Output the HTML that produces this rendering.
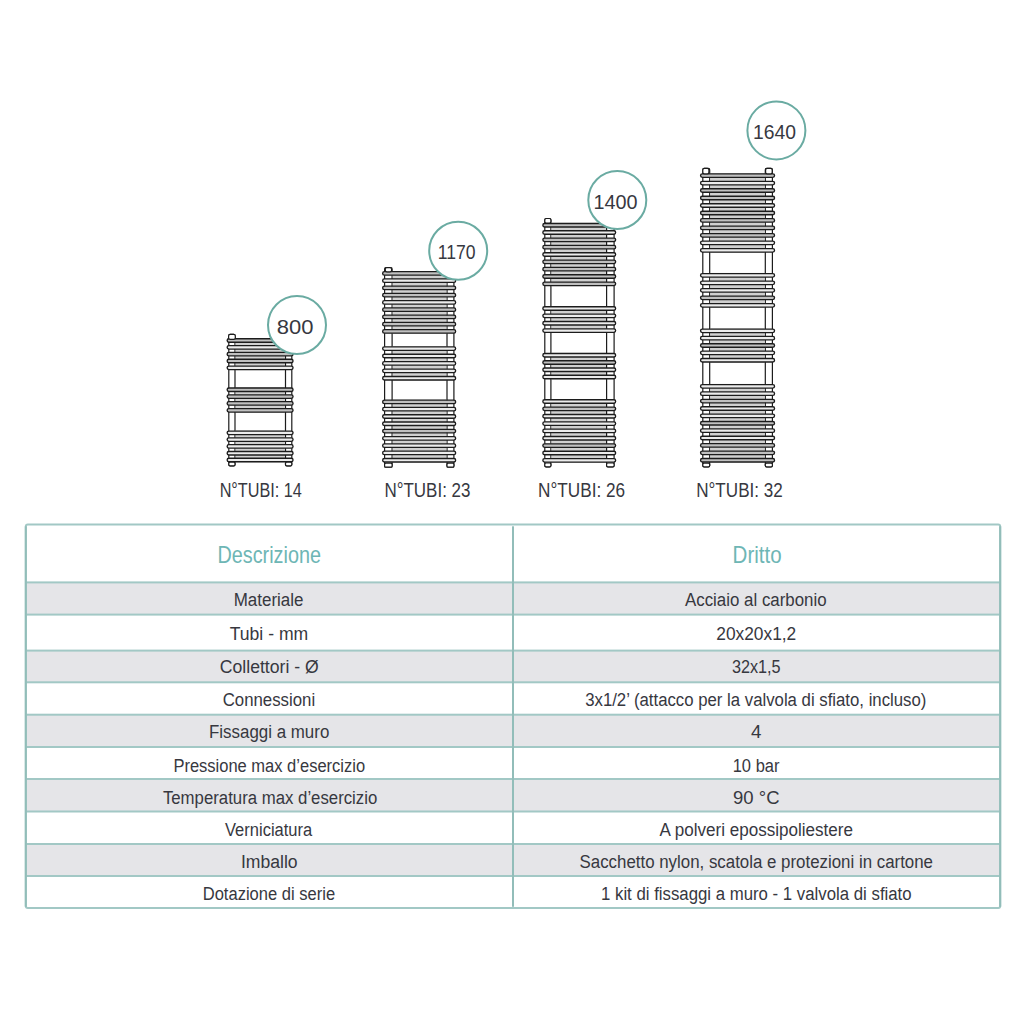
<!DOCTYPE html>
<html><head><meta charset="utf-8"><title>Scheda tecnica</title>
<style>html,body{margin:0;padding:0;background:#fff;width:1024px;height:1024px;overflow:hidden}svg{display:block}text{font-family:"Liberation Sans",sans-serif}</style></head>
<body>
<svg width="1024" height="1024" viewBox="0 0 1024 1024">
<defs><filter id="soft" x="-5%" y="-5%" width="110%" height="110%"><feGaussianBlur stdDeviation="0.45"/></filter></defs>
<g id="radiators" filter="url(#soft)">
<rect x="228.80" y="334.30" width="6.20" height="131.50" rx="1.3" fill="#fff" stroke="#1c1c1c" stroke-width="1.2"/>
<rect x="285.50" y="334.30" width="6.30" height="131.50" rx="1.3" fill="#fff" stroke="#1c1c1c" stroke-width="1.2"/>
<rect x="235.60" y="338.10" width="49.30" height="32.10" fill="#d0d0d0"/>
<rect x="227.15" y="338.75" width="65.90" height="3.50" rx="1.75" fill="#c0c0c0" stroke="#1c1c1c" stroke-width="1.35"/>
<rect x="227.15" y="345.57" width="65.90" height="3.50" rx="1.75" fill="#ececec" stroke="#1c1c1c" stroke-width="1.35"/>
<rect x="227.15" y="352.40" width="65.90" height="3.50" rx="1.75" fill="#c0c0c0" stroke="#1c1c1c" stroke-width="1.35"/>
<rect x="227.15" y="359.23" width="65.90" height="3.50" rx="1.75" fill="#c0c0c0" stroke="#1c1c1c" stroke-width="1.35"/>
<rect x="227.15" y="366.05" width="65.90" height="3.50" rx="1.75" fill="#ececec" stroke="#1c1c1c" stroke-width="1.35"/>
<rect x="235.60" y="387.30" width="49.30" height="25.40" fill="#d0d0d0"/>
<rect x="227.15" y="387.95" width="65.90" height="3.50" rx="1.75" fill="#c0c0c0" stroke="#1c1c1c" stroke-width="1.35"/>
<rect x="227.15" y="394.82" width="65.90" height="3.50" rx="1.75" fill="#c0c0c0" stroke="#1c1c1c" stroke-width="1.35"/>
<rect x="227.15" y="401.68" width="65.90" height="3.50" rx="1.75" fill="#c0c0c0" stroke="#1c1c1c" stroke-width="1.35"/>
<rect x="227.15" y="408.55" width="65.90" height="3.50" rx="1.75" fill="#c0c0c0" stroke="#1c1c1c" stroke-width="1.35"/>
<rect x="235.60" y="430.40" width="49.30" height="32.00" fill="#d0d0d0"/>
<rect x="227.15" y="431.05" width="65.90" height="3.50" rx="1.75" fill="#ececec" stroke="#1c1c1c" stroke-width="1.35"/>
<rect x="227.15" y="437.85" width="65.90" height="3.50" rx="1.75" fill="#ececec" stroke="#1c1c1c" stroke-width="1.35"/>
<rect x="227.15" y="444.65" width="65.90" height="3.50" rx="1.75" fill="#ececec" stroke="#1c1c1c" stroke-width="1.35"/>
<rect x="227.15" y="451.45" width="65.90" height="3.50" rx="1.75" fill="#ececec" stroke="#1c1c1c" stroke-width="1.35"/>
<rect x="227.15" y="458.25" width="65.90" height="3.50" rx="1.75" fill="#ececec" stroke="#1c1c1c" stroke-width="1.35"/>
<rect x="228.60" y="334.30" width="6.70" height="5.10" rx="1.6" fill="#fff" stroke="#1c1c1c" stroke-width="1.2"/>
<rect x="228.80" y="462.20" width="6.20" height="3.60" rx="1.3" fill="#fff" stroke="#1c1c1c" stroke-width="1.2"/>
<rect x="285.50" y="462.20" width="6.30" height="3.60" rx="1.3" fill="#fff" stroke="#1c1c1c" stroke-width="1.2"/>
<rect x="384.60" y="267.60" width="7.50" height="199.60" rx="1.3" fill="#fff" stroke="#1c1c1c" stroke-width="1.2"/>
<rect x="447.00" y="267.60" width="6.90" height="199.60" rx="1.3" fill="#fff" stroke="#1c1c1c" stroke-width="1.2"/>
<rect x="392.70" y="271.00" width="53.70" height="62.80" fill="#d0d0d0"/>
<rect x="382.65" y="271.65" width="73.00" height="3.50" rx="1.75" fill="#c0c0c0" stroke="#1c1c1c" stroke-width="1.35"/>
<rect x="382.65" y="278.90" width="73.00" height="3.50" rx="1.75" fill="#ececec" stroke="#1c1c1c" stroke-width="1.35"/>
<rect x="382.65" y="286.15" width="73.00" height="3.50" rx="1.75" fill="#c0c0c0" stroke="#1c1c1c" stroke-width="1.35"/>
<rect x="382.65" y="293.40" width="73.00" height="3.50" rx="1.75" fill="#c0c0c0" stroke="#1c1c1c" stroke-width="1.35"/>
<rect x="382.65" y="300.65" width="73.00" height="3.50" rx="1.75" fill="#ececec" stroke="#1c1c1c" stroke-width="1.35"/>
<rect x="382.65" y="307.90" width="73.00" height="3.50" rx="1.75" fill="#c0c0c0" stroke="#1c1c1c" stroke-width="1.35"/>
<rect x="382.65" y="315.15" width="73.00" height="3.50" rx="1.75" fill="#c0c0c0" stroke="#1c1c1c" stroke-width="1.35"/>
<rect x="382.65" y="322.40" width="73.00" height="3.50" rx="1.75" fill="#c0c0c0" stroke="#1c1c1c" stroke-width="1.35"/>
<rect x="382.65" y="329.65" width="73.00" height="3.50" rx="1.75" fill="#c0c0c0" stroke="#1c1c1c" stroke-width="1.35"/>
<rect x="392.70" y="346.20" width="53.70" height="34.40" fill="#d0d0d0"/>
<rect x="382.65" y="346.85" width="73.00" height="3.50" rx="1.75" fill="#ececec" stroke="#1c1c1c" stroke-width="1.35"/>
<rect x="382.65" y="354.25" width="73.00" height="3.50" rx="1.75" fill="#ececec" stroke="#1c1c1c" stroke-width="1.35"/>
<rect x="382.65" y="361.65" width="73.00" height="3.50" rx="1.75" fill="#ececec" stroke="#1c1c1c" stroke-width="1.35"/>
<rect x="382.65" y="369.05" width="73.00" height="3.50" rx="1.75" fill="#ececec" stroke="#1c1c1c" stroke-width="1.35"/>
<rect x="382.65" y="376.45" width="73.00" height="3.50" rx="1.75" fill="#ececec" stroke="#1c1c1c" stroke-width="1.35"/>
<rect x="392.70" y="399.50" width="53.70" height="63.10" fill="#d0d0d0"/>
<rect x="382.65" y="400.15" width="73.00" height="3.50" rx="1.75" fill="#c0c0c0" stroke="#1c1c1c" stroke-width="1.35"/>
<rect x="382.65" y="407.44" width="73.00" height="3.50" rx="1.75" fill="#ececec" stroke="#1c1c1c" stroke-width="1.35"/>
<rect x="382.65" y="414.72" width="73.00" height="3.50" rx="1.75" fill="#ececec" stroke="#1c1c1c" stroke-width="1.35"/>
<rect x="382.65" y="422.01" width="73.00" height="3.50" rx="1.75" fill="#ececec" stroke="#1c1c1c" stroke-width="1.35"/>
<rect x="382.65" y="429.30" width="73.00" height="3.50" rx="1.75" fill="#c0c0c0" stroke="#1c1c1c" stroke-width="1.35"/>
<rect x="382.65" y="436.59" width="73.00" height="3.50" rx="1.75" fill="#ececec" stroke="#1c1c1c" stroke-width="1.35"/>
<rect x="382.65" y="443.88" width="73.00" height="3.50" rx="1.75" fill="#ececec" stroke="#1c1c1c" stroke-width="1.35"/>
<rect x="382.65" y="451.16" width="73.00" height="3.50" rx="1.75" fill="#ececec" stroke="#1c1c1c" stroke-width="1.35"/>
<rect x="382.65" y="458.45" width="73.00" height="3.50" rx="1.75" fill="#ececec" stroke="#1c1c1c" stroke-width="1.35"/>
<rect x="385.30" y="267.60" width="6.30" height="4.30" rx="1.6" fill="#fff" stroke="#1c1c1c" stroke-width="1.2"/>
<rect x="384.60" y="463.20" width="7.50" height="4.00" rx="1.3" fill="#fff" stroke="#1c1c1c" stroke-width="1.2"/>
<rect x="447.00" y="463.20" width="6.90" height="4.00" rx="1.3" fill="#fff" stroke="#1c1c1c" stroke-width="1.2"/>
<rect x="544.80" y="218.50" width="6.10" height="248.30" rx="1.3" fill="#fff" stroke="#1c1c1c" stroke-width="1.2"/>
<rect x="606.60" y="218.50" width="7.50" height="248.30" rx="1.3" fill="#fff" stroke="#1c1c1c" stroke-width="1.2"/>
<rect x="551.50" y="222.80" width="54.50" height="63.40" fill="#d0d0d0"/>
<rect x="542.85" y="223.45" width="72.80" height="3.50" rx="1.75" fill="#c0c0c0" stroke="#1c1c1c" stroke-width="1.35"/>
<rect x="542.85" y="230.77" width="72.80" height="3.50" rx="1.75" fill="#ececec" stroke="#1c1c1c" stroke-width="1.35"/>
<rect x="542.85" y="238.10" width="72.80" height="3.50" rx="1.75" fill="#c0c0c0" stroke="#1c1c1c" stroke-width="1.35"/>
<rect x="542.85" y="245.43" width="72.80" height="3.50" rx="1.75" fill="#c0c0c0" stroke="#1c1c1c" stroke-width="1.35"/>
<rect x="542.85" y="252.75" width="72.80" height="3.50" rx="1.75" fill="#ececec" stroke="#1c1c1c" stroke-width="1.35"/>
<rect x="542.85" y="260.07" width="72.80" height="3.50" rx="1.75" fill="#c0c0c0" stroke="#1c1c1c" stroke-width="1.35"/>
<rect x="542.85" y="267.40" width="72.80" height="3.50" rx="1.75" fill="#c0c0c0" stroke="#1c1c1c" stroke-width="1.35"/>
<rect x="542.85" y="274.73" width="72.80" height="3.50" rx="1.75" fill="#c0c0c0" stroke="#1c1c1c" stroke-width="1.35"/>
<rect x="542.85" y="282.05" width="72.80" height="3.50" rx="1.75" fill="#c0c0c0" stroke="#1c1c1c" stroke-width="1.35"/>
<rect x="551.50" y="306.10" width="54.50" height="26.90" fill="#d0d0d0"/>
<rect x="542.85" y="306.75" width="72.80" height="3.50" rx="1.75" fill="#ececec" stroke="#1c1c1c" stroke-width="1.35"/>
<rect x="542.85" y="314.12" width="72.80" height="3.50" rx="1.75" fill="#ececec" stroke="#1c1c1c" stroke-width="1.35"/>
<rect x="542.85" y="321.48" width="72.80" height="3.50" rx="1.75" fill="#ececec" stroke="#1c1c1c" stroke-width="1.35"/>
<rect x="542.85" y="328.85" width="72.80" height="3.50" rx="1.75" fill="#ececec" stroke="#1c1c1c" stroke-width="1.35"/>
<rect x="551.50" y="352.80" width="54.50" height="26.60" fill="#d0d0d0"/>
<rect x="542.85" y="353.45" width="72.80" height="3.50" rx="1.75" fill="#ececec" stroke="#1c1c1c" stroke-width="1.35"/>
<rect x="542.85" y="360.72" width="72.80" height="3.50" rx="1.75" fill="#c0c0c0" stroke="#1c1c1c" stroke-width="1.35"/>
<rect x="542.85" y="367.98" width="72.80" height="3.50" rx="1.75" fill="#ececec" stroke="#1c1c1c" stroke-width="1.35"/>
<rect x="542.85" y="375.25" width="72.80" height="3.50" rx="1.75" fill="#ececec" stroke="#1c1c1c" stroke-width="1.35"/>
<rect x="551.50" y="399.10" width="54.50" height="63.60" fill="#d0d0d0"/>
<rect x="542.85" y="399.75" width="72.80" height="3.50" rx="1.75" fill="#ececec" stroke="#1c1c1c" stroke-width="1.35"/>
<rect x="542.85" y="407.10" width="72.80" height="3.50" rx="1.75" fill="#c0c0c0" stroke="#1c1c1c" stroke-width="1.35"/>
<rect x="542.85" y="414.45" width="72.80" height="3.50" rx="1.75" fill="#ececec" stroke="#1c1c1c" stroke-width="1.35"/>
<rect x="542.85" y="421.80" width="72.80" height="3.50" rx="1.75" fill="#ececec" stroke="#1c1c1c" stroke-width="1.35"/>
<rect x="542.85" y="429.15" width="72.80" height="3.50" rx="1.75" fill="#ececec" stroke="#1c1c1c" stroke-width="1.35"/>
<rect x="542.85" y="436.50" width="72.80" height="3.50" rx="1.75" fill="#ececec" stroke="#1c1c1c" stroke-width="1.35"/>
<rect x="542.85" y="443.85" width="72.80" height="3.50" rx="1.75" fill="#c0c0c0" stroke="#1c1c1c" stroke-width="1.35"/>
<rect x="542.85" y="451.20" width="72.80" height="3.50" rx="1.75" fill="#ececec" stroke="#1c1c1c" stroke-width="1.35"/>
<rect x="542.85" y="458.55" width="72.80" height="3.50" rx="1.75" fill="#ececec" stroke="#1c1c1c" stroke-width="1.35"/>
<rect x="544.80" y="218.50" width="6.10" height="4.60" rx="1.6" fill="#fff" stroke="#1c1c1c" stroke-width="1.2"/>
<rect x="544.80" y="463.00" width="6.10" height="3.80" rx="1.3" fill="#fff" stroke="#1c1c1c" stroke-width="1.2"/>
<rect x="606.60" y="463.00" width="7.50" height="3.80" rx="1.3" fill="#fff" stroke="#1c1c1c" stroke-width="1.2"/>
<rect x="702.80" y="168.40" width="6.90" height="298.50" rx="1.3" fill="#fff" stroke="#1c1c1c" stroke-width="1.2"/>
<rect x="765.30" y="168.40" width="7.10" height="298.50" rx="1.3" fill="#fff" stroke="#1c1c1c" stroke-width="1.2"/>
<rect x="710.30" y="173.20" width="54.40" height="79.50" fill="#d0d0d0"/>
<rect x="700.55" y="173.85" width="74.00" height="3.50" rx="1.75" fill="#c0c0c0" stroke="#1c1c1c" stroke-width="1.35"/>
<rect x="700.55" y="181.32" width="74.00" height="3.50" rx="1.75" fill="#ececec" stroke="#1c1c1c" stroke-width="1.35"/>
<rect x="700.55" y="188.79" width="74.00" height="3.50" rx="1.75" fill="#c0c0c0" stroke="#1c1c1c" stroke-width="1.35"/>
<rect x="700.55" y="196.26" width="74.00" height="3.50" rx="1.75" fill="#c0c0c0" stroke="#1c1c1c" stroke-width="1.35"/>
<rect x="700.55" y="203.73" width="74.00" height="3.50" rx="1.75" fill="#ececec" stroke="#1c1c1c" stroke-width="1.35"/>
<rect x="700.55" y="211.20" width="74.00" height="3.50" rx="1.75" fill="#c0c0c0" stroke="#1c1c1c" stroke-width="1.35"/>
<rect x="700.55" y="218.67" width="74.00" height="3.50" rx="1.75" fill="#c0c0c0" stroke="#1c1c1c" stroke-width="1.35"/>
<rect x="700.55" y="226.14" width="74.00" height="3.50" rx="1.75" fill="#c0c0c0" stroke="#1c1c1c" stroke-width="1.35"/>
<rect x="700.55" y="233.61" width="74.00" height="3.50" rx="1.75" fill="#c0c0c0" stroke="#1c1c1c" stroke-width="1.35"/>
<rect x="700.55" y="241.08" width="74.00" height="3.50" rx="1.75" fill="#ececec" stroke="#1c1c1c" stroke-width="1.35"/>
<rect x="700.55" y="248.55" width="74.00" height="3.50" rx="1.75" fill="#ececec" stroke="#1c1c1c" stroke-width="1.35"/>
<rect x="710.30" y="272.90" width="54.40" height="34.80" fill="#d0d0d0"/>
<rect x="700.55" y="273.55" width="74.00" height="3.50" rx="1.75" fill="#ececec" stroke="#1c1c1c" stroke-width="1.35"/>
<rect x="700.55" y="281.05" width="74.00" height="3.50" rx="1.75" fill="#ececec" stroke="#1c1c1c" stroke-width="1.35"/>
<rect x="700.55" y="288.55" width="74.00" height="3.50" rx="1.75" fill="#ececec" stroke="#1c1c1c" stroke-width="1.35"/>
<rect x="700.55" y="296.05" width="74.00" height="3.50" rx="1.75" fill="#c0c0c0" stroke="#1c1c1c" stroke-width="1.35"/>
<rect x="700.55" y="303.55" width="74.00" height="3.50" rx="1.75" fill="#ececec" stroke="#1c1c1c" stroke-width="1.35"/>
<rect x="710.30" y="328.40" width="54.40" height="34.20" fill="#d0d0d0"/>
<rect x="700.55" y="329.05" width="74.00" height="3.50" rx="1.75" fill="#ececec" stroke="#1c1c1c" stroke-width="1.35"/>
<rect x="700.55" y="336.40" width="74.00" height="3.50" rx="1.75" fill="#ececec" stroke="#1c1c1c" stroke-width="1.35"/>
<rect x="700.55" y="343.75" width="74.00" height="3.50" rx="1.75" fill="#c0c0c0" stroke="#1c1c1c" stroke-width="1.35"/>
<rect x="700.55" y="351.10" width="74.00" height="3.50" rx="1.75" fill="#ececec" stroke="#1c1c1c" stroke-width="1.35"/>
<rect x="700.55" y="358.45" width="74.00" height="3.50" rx="1.75" fill="#ececec" stroke="#1c1c1c" stroke-width="1.35"/>
<rect x="710.30" y="383.90" width="54.40" height="78.70" fill="#d0d0d0"/>
<rect x="700.55" y="384.55" width="74.00" height="3.50" rx="1.75" fill="#ececec" stroke="#1c1c1c" stroke-width="1.35"/>
<rect x="700.55" y="391.94" width="74.00" height="3.50" rx="1.75" fill="#ececec" stroke="#1c1c1c" stroke-width="1.35"/>
<rect x="700.55" y="399.33" width="74.00" height="3.50" rx="1.75" fill="#c0c0c0" stroke="#1c1c1c" stroke-width="1.35"/>
<rect x="700.55" y="406.72" width="74.00" height="3.50" rx="1.75" fill="#ececec" stroke="#1c1c1c" stroke-width="1.35"/>
<rect x="700.55" y="414.11" width="74.00" height="3.50" rx="1.75" fill="#ececec" stroke="#1c1c1c" stroke-width="1.35"/>
<rect x="700.55" y="421.50" width="74.00" height="3.50" rx="1.75" fill="#c0c0c0" stroke="#1c1c1c" stroke-width="1.35"/>
<rect x="700.55" y="428.89" width="74.00" height="3.50" rx="1.75" fill="#ececec" stroke="#1c1c1c" stroke-width="1.35"/>
<rect x="700.55" y="436.28" width="74.00" height="3.50" rx="1.75" fill="#ececec" stroke="#1c1c1c" stroke-width="1.35"/>
<rect x="700.55" y="443.67" width="74.00" height="3.50" rx="1.75" fill="#c0c0c0" stroke="#1c1c1c" stroke-width="1.35"/>
<rect x="700.55" y="451.06" width="74.00" height="3.50" rx="1.75" fill="#c0c0c0" stroke="#1c1c1c" stroke-width="1.35"/>
<rect x="700.55" y="458.45" width="74.00" height="3.50" rx="1.75" fill="#c0c0c0" stroke="#1c1c1c" stroke-width="1.35"/>
<rect x="702.80" y="168.40" width="6.10" height="5.50" rx="1.6" fill="#fff" stroke="#1c1c1c" stroke-width="1.2"/>
<rect x="765.60" y="168.40" width="6.60" height="5.50" rx="1.6" fill="#fff" stroke="#1c1c1c" stroke-width="1.2"/>
<rect x="702.80" y="463.20" width="6.90" height="3.70" rx="1.3" fill="#fff" stroke="#1c1c1c" stroke-width="1.2"/>
<rect x="765.30" y="463.20" width="7.10" height="3.70" rx="1.3" fill="#fff" stroke="#1c1c1c" stroke-width="1.2"/>
</g>
<g id="circles">
<circle cx="297" cy="325" r="29" fill="#fff" stroke="#6aaba2" stroke-width="2"/>
<text x="295.15" y="333.95" font-size="19.5" fill="#37383f" text-anchor="middle" textLength="36.70" lengthAdjust="spacingAndGlyphs">800</text>
<circle cx="458.2" cy="250.7" r="29" fill="#fff" stroke="#6aaba2" stroke-width="2"/>
<text x="456.60" y="259.30" font-size="19.5" fill="#37383f" text-anchor="middle" textLength="37.80" lengthAdjust="spacingAndGlyphs">1170</text>
<circle cx="617.3" cy="200" r="29" fill="#fff" stroke="#6aaba2" stroke-width="2"/>
<text x="615.45" y="208.95" font-size="19.5" fill="#37383f" text-anchor="middle" textLength="44.10" lengthAdjust="spacingAndGlyphs">1400</text>
<circle cx="776.4" cy="130.4" r="29" fill="#fff" stroke="#6aaba2" stroke-width="2"/>
<text x="774.50" y="138.95" font-size="19.5" fill="#37383f" text-anchor="middle" textLength="43.00" lengthAdjust="spacingAndGlyphs">1640</text>
</g>
<g id="labels">
<text x="260.77" y="496.7" font-size="19.5" fill="#37383f" text-anchor="middle" textLength="82.25" lengthAdjust="spacingAndGlyphs">N°TUBI: 14</text>
<text x="427.45" y="496.7" font-size="19.5" fill="#37383f" text-anchor="middle" textLength="86.10" lengthAdjust="spacingAndGlyphs">N°TUBI: 23</text>
<text x="581.55" y="496.7" font-size="19.5" fill="#37383f" text-anchor="middle" textLength="87.10" lengthAdjust="spacingAndGlyphs">N°TUBI: 26</text>
<text x="739.50" y="496.7" font-size="19.5" fill="#37383f" text-anchor="middle" textLength="86.60" lengthAdjust="spacingAndGlyphs">N°TUBI: 32</text>
</g>
<g id="table">
<rect x="26" y="582.40" width="974" height="32.20" fill="#e5e5e8"/>
<rect x="26" y="650.60" width="974" height="31.70" fill="#e5e5e8"/>
<rect x="26" y="714.70" width="974" height="32.30" fill="#e5e5e8"/>
<rect x="26" y="779.00" width="974" height="32.50" fill="#e5e5e8"/>
<rect x="26" y="844.00" width="974" height="32.00" fill="#e5e5e8"/>
<rect x="25" y="581.40" width="976" height="2" fill="#a2c8c5"/>
<rect x="25" y="613.60" width="976" height="2" fill="#a2c8c5"/>
<rect x="25" y="649.60" width="976" height="2" fill="#a2c8c5"/>
<rect x="25" y="681.30" width="976" height="2" fill="#a2c8c5"/>
<rect x="25" y="713.70" width="976" height="2" fill="#a2c8c5"/>
<rect x="25" y="746.00" width="976" height="2" fill="#a2c8c5"/>
<rect x="25" y="778.00" width="976" height="2" fill="#a2c8c5"/>
<rect x="25" y="810.50" width="976" height="2" fill="#a2c8c5"/>
<rect x="25" y="843.00" width="976" height="2" fill="#a2c8c5"/>
<rect x="25" y="875.00" width="976" height="2" fill="#a2c8c5"/>
<rect x="25.8" y="524.60" width="974.4" height="383.50" rx="2" fill="none" stroke="#a2c8c5" stroke-width="2"/>
<rect x="24.8" y="526.30" width="2" height="380.50" fill="#92bdb9"/>
<rect x="512" y="526.30" width="2" height="380.50" fill="#92bdb9"/>
<rect x="999.2" y="526.30" width="2" height="380.50" fill="#92bdb9"/>
<text x="269.2" y="562.6" font-size="24" fill="#6eb6b5" text-anchor="middle" textLength="103.5" lengthAdjust="spacingAndGlyphs">Descrizione</text>
<text x="757.1" y="562.8" font-size="24" fill="#6eb6b5" text-anchor="middle" textLength="49" lengthAdjust="spacingAndGlyphs">Dritto</text>
<text x="268.60" y="606.30" font-size="18.8" fill="#37383f" text-anchor="middle" textLength="69.80" lengthAdjust="spacingAndGlyphs">Materiale</text>
<text x="755.80" y="606.30" font-size="18.8" fill="#37383f" text-anchor="middle" textLength="141.60" lengthAdjust="spacingAndGlyphs">Acciaio al carbonio</text>
<text x="268.95" y="640.10" font-size="18.8" fill="#37383f" text-anchor="middle" textLength="78.50" lengthAdjust="spacingAndGlyphs">Tubi - mm</text>
<text x="756.25" y="640.10" font-size="18.8" fill="#37383f" text-anchor="middle" textLength="80.00" lengthAdjust="spacingAndGlyphs">20x20x1,2</text>
<text x="269.25" y="673.40" font-size="18.8" fill="#37383f" text-anchor="middle" textLength="98.90" lengthAdjust="spacingAndGlyphs">Collettori - Ø</text>
<text x="756.25" y="673.40" font-size="18.8" fill="#37383f" text-anchor="middle" textLength="48.70" lengthAdjust="spacingAndGlyphs">32x1,5</text>
<text x="268.95" y="706.10" font-size="18.8" fill="#37383f" text-anchor="middle" textLength="92.50" lengthAdjust="spacingAndGlyphs">Connessioni</text>
<text x="755.80" y="706.10" font-size="18.8" fill="#37383f" text-anchor="middle" textLength="341.20" lengthAdjust="spacingAndGlyphs">3x1/2’ (attacco per la valvola di sfiato, incluso)</text>
<text x="269.15" y="738.20" font-size="18.8" fill="#37383f" text-anchor="middle" textLength="120.30" lengthAdjust="spacingAndGlyphs">Fissaggi a muro</text>
<text x="756.30" y="738.20" font-size="18.8" fill="#37383f" text-anchor="middle">4</text>
<text x="269.25" y="771.80" font-size="18.8" fill="#37383f" text-anchor="middle" textLength="191.70" lengthAdjust="spacingAndGlyphs">Pressione max d’esercizio</text>
<text x="756.10" y="771.80" font-size="18.8" fill="#37383f" text-anchor="middle" textLength="46.80" lengthAdjust="spacingAndGlyphs">10 bar</text>
<text x="270.10" y="803.80" font-size="18.8" fill="#37383f" text-anchor="middle" textLength="214.40" lengthAdjust="spacingAndGlyphs">Temperatura max d’esercizio</text>
<text x="756.25" y="803.80" font-size="18.8" fill="#37383f" text-anchor="middle" textLength="46.50" lengthAdjust="spacingAndGlyphs">90 °C</text>
<text x="268.60" y="835.90" font-size="18.8" fill="#37383f" text-anchor="middle" textLength="87.20" lengthAdjust="spacingAndGlyphs">Verniciatura</text>
<text x="756.30" y="835.90" font-size="18.8" fill="#37383f" text-anchor="middle" textLength="193.40" lengthAdjust="spacingAndGlyphs">A polveri epossipoliestere</text>
<text x="269.25" y="868.00" font-size="18.8" fill="#37383f" text-anchor="middle" textLength="56.70" lengthAdjust="spacingAndGlyphs">Imballo</text>
<text x="756.25" y="868.00" font-size="18.8" fill="#37383f" text-anchor="middle" textLength="353.50" lengthAdjust="spacingAndGlyphs">Sacchetto nylon, scatola e protezioni in cartone</text>
<text x="268.90" y="899.70" font-size="18.8" fill="#37383f" text-anchor="middle" textLength="132.40" lengthAdjust="spacingAndGlyphs">Dotazione di serie</text>
<text x="756.30" y="899.70" font-size="18.8" fill="#37383f" text-anchor="middle" textLength="310.60" lengthAdjust="spacingAndGlyphs">1 kit di fissaggi a muro - 1 valvola di sfiato</text>
</g>
</svg>
</body></html>
